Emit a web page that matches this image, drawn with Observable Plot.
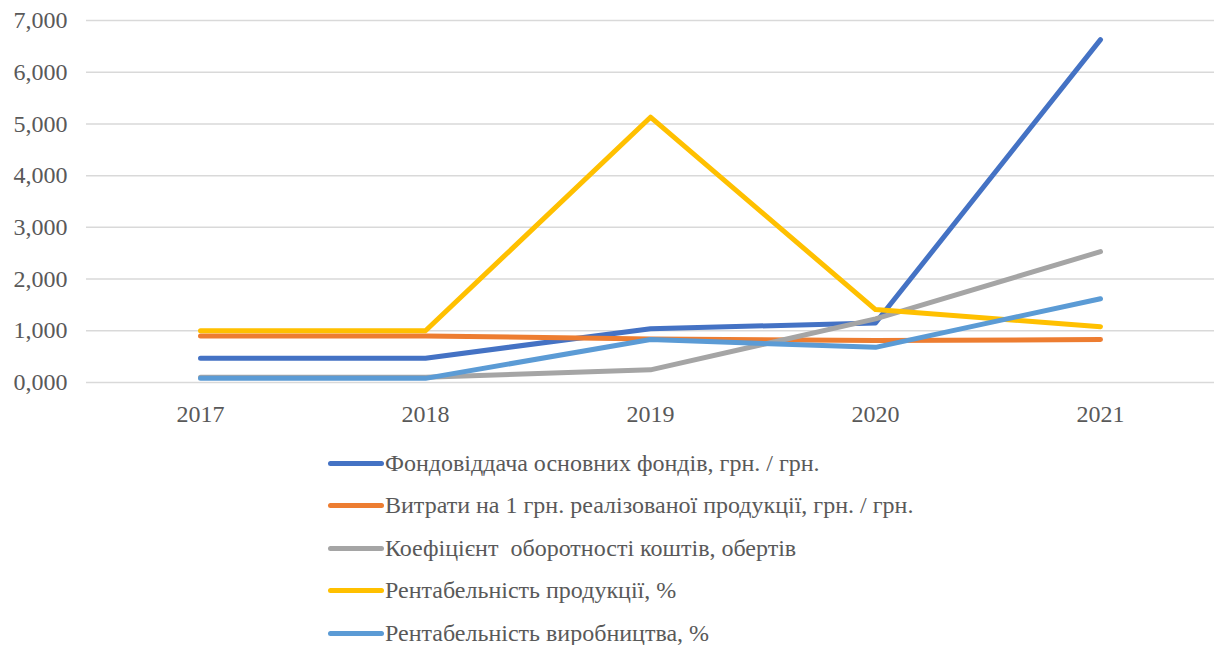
<!DOCTYPE html>
<html>
<head>
<meta charset="utf-8">
<script src="https://cdn.jsdelivr.net/npm/d3@7"></script>
<script src="https://cdn.jsdelivr.net/npm/@observablehq/plot@0.6"></script>
<style>
  html, body { margin: 0; padding: 0; background: #fff; }
  body { width: 1214px; height: 645px; overflow: hidden; font-family: "Liberation Serif", "Times New Roman", serif; }
  #legend { padding-left: 328px; padding-top: 12px; }
  .row { display: flex; align-items: center; height: 42.5px; }
  .sw { width: 56px; height: 5px; border-radius: 3px; margin-right: 1px; }
  .lab { font-family: "Liberation Serif", "Times New Roman", serif; font-size: 24px; color: #595959; white-space: pre; }
</style>
</head>
<body>
<div id="chart"></div>
<div id="legend"></div>
<script>
const years = ["2017", "2018", "2019", "2020", "2021"];
const seriesNames = [
  "Фондовіддача основних фондів, грн. / грн.",
  "Витрати на 1 грн. реалізованої продукції, грн. / грн.",
  "Коефіцієнт  оборотності коштів, обертів",
  "Рентабельність продукції, %",
  "Рентабельність виробництва, %"
];
const colors = ["#4472C4", "#ED7D31", "#A5A5A5", "#FFC000", "#5B9BD5"];
const fondovidacha = [0.47, 0.47, 1.04, 1.15, 6.63];
const vytraty = [0.90, 0.90, 0.84, 0.81, 0.83];
const koeficient = [0.10, 0.10, 0.245, 1.23, 2.53];
const rentProduktsii = [1.00, 1.00, 5.13, 1.41, 1.08];
const rentVyrobnytstva = [0.08, 0.08, 0.83, 0.68, 1.62];
const yTicks = [0, 1, 2, 3, 4, 5, 6, 7];

const allSeries = [fondovidacha, vytraty, koeficient, rentProduktsii, rentVyrobnytstva];
const data = [];
allSeries.forEach((vals, si) => {
  vals.forEach((v, i) => data.push({series: seriesNames[si], year: years[i], value: v}));
});

const fmt = d => d.toFixed(3).replace(".", ",");

const chart = Plot.plot({
  width: 1214,
  height: 430,
  marginLeft: 86,
  marginRight: 0,
  marginTop: 20,
  marginBottom: 48,
  style: { fontFamily: "'Liberation Serif', 'Times New Roman', serif", fontSize: "24px", color: "#595959", background: "#fff" },
  x: { type: "point", domain: years, padding: 0.5, label: null },
  y: { domain: [0, 7], label: null },
  color: { domain: seriesNames, range: colors },
  marks: [
    Plot.gridY(yTicks, { stroke: "#d9d9d9", strokeOpacity: 1, strokeWidth: 1.5 }),
    Plot.axisY(yTicks, { tickSize: 0, tickPadding: 19, tickFormat: fmt, label: null, fill: "#595959" }),
    Plot.axisX({ tickSize: 0, tickPadding: 22, label: null, fill: "#595959" }),
    Plot.line(data, {
      x: "year", y: "value", z: "series", stroke: "series",
      strokeWidth: 5, strokeLinecap: "round", strokeLinejoin: "round"
    })
  ]
});
document.getElementById("chart").appendChild(chart);

const legend = document.getElementById("legend");
seriesNames.forEach((n, i) => {
  const row = document.createElement("div");
  row.className = "row";
  const sw = document.createElement("div");
  sw.className = "sw";
  sw.style.background = colors[i];
  const lab = document.createElement("span");
  lab.className = "lab";
  lab.textContent = n;
  row.appendChild(sw);
  row.appendChild(lab);
  legend.appendChild(row);
});
</script>
</body>
</html>
